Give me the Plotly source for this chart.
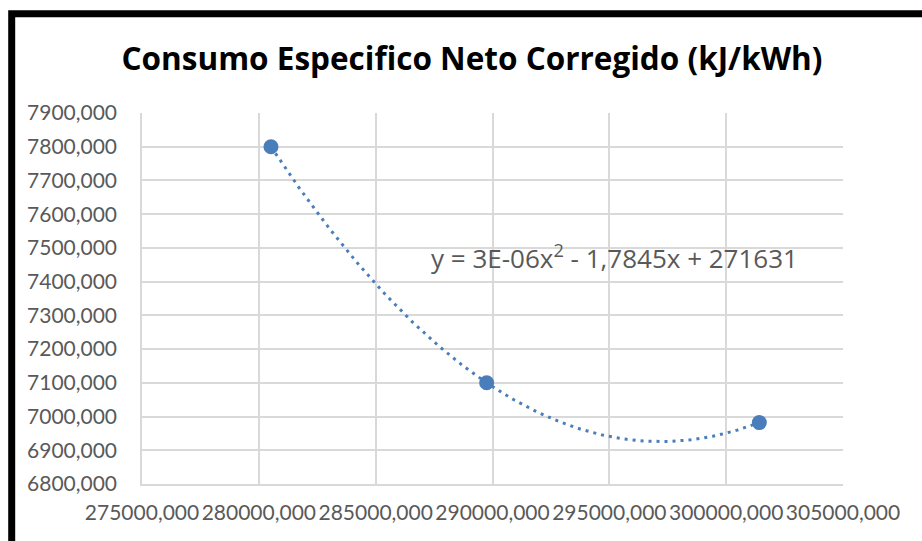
import numpy as np
import plotly.graph_objects as go

# Data
potencia = [280520, 289750, 301420]
consumo = [7800, 7100, 6982]

x_ticks = [275000, 280000, 285000, 290000, 295000, 300000, 305000]
x_ticktext = ["275000,000", "280000,000", "285000,000", "290000,000",
              "295000,000", "300000,000", "305000,000"]
y_ticks = [6800, 6900, 7000, 7100, 7200, 7300, 7400, 7500, 7600, 7700, 7800, 7900]
y_ticktext = ["6800,000", "6900,000", "7000,000", "7100,000", "7200,000", "7300,000",
              "7400,000", "7500,000", "7600,000", "7700,000", "7800,000", "7900,000"]

title_text = "Consumo Especifico Neto Corregido (kJ/kWh)"
equation_text = "y = 3E-06x<sup>2</sup> - 1,7845x + 271631"

# Polynomial (order 2) trendline fitted from the data, as the spreadsheet does
coef = np.polyfit(potencia, consumo, 2)
xt = np.linspace(min(potencia), max(potencia), 200)
yt = np.polyval(coef, xt)

W, H = 922, 541
L, R, T, B = 142, 79, 113, 57
pw, ph = W - L - R, H - T - B

def px2paper_x(px):
    return (px - L) / pw

def px2paper_y(py):
    return (H - B - py) / ph

blue = "#4a7ebb"
grey = "#595959"
grid = "#d9d9d9"
font = "Lato"

fig = go.Figure()
fig.add_trace(go.Scatter(x=xt, y=yt, mode="lines",
                         line=dict(color=blue, width=3, dash="3px,5px"),
                         hoverinfo="skip", showlegend=False))
fig.add_trace(go.Scatter(x=potencia, y=consumo, mode="markers",
                         marker=dict(color=blue, size=15),
                         showlegend=False))

fig.update_layout(
    width=W, height=H,
    margin=dict(l=L, r=R, t=T, b=B, pad=0, autoexpand=False),
    paper_bgcolor="white", plot_bgcolor="white",
    title=dict(text="<b>" + title_text + "</b>", x=px2paper_x(472), xref="paper",
               xanchor="center", y=1 - 59 / H, yanchor="middle",
               font=dict(family="Open Sans", size=31.5, color="black")),
    xaxis=dict(range=[275000, 305000], tickvals=x_ticks, ticktext=x_ticktext,
               tickangle=0, automargin=False,
               showgrid=True, gridcolor=grid, gridwidth=1.5,
               showline=True, linecolor=grid, linewidth=1.5, mirror=False,
               zeroline=False, ticks="outside", ticklen=9, tickcolor="rgba(0,0,0,0)",
               tickfont=dict(family=font, size=21, color=grey)),
    yaxis=dict(range=[6800, 7900], tickvals=y_ticks, ticktext=y_ticktext,
               automargin=False,
               showgrid=True, gridcolor=grid, gridwidth=1.5,
               showline=True, linecolor=grid, linewidth=1.5,
               zeroline=False, ticks="outside", ticklen=19, tickcolor="rgba(0,0,0,0)",
               tickfont=dict(family=font, size=21, color=grey)),
    annotations=[dict(text=equation_text, xref="paper", yref="paper",
                      x=px2paper_x(429), y=px2paper_y(257),
                      xanchor="left", yanchor="middle", showarrow=False,
                      font=dict(family="Open Sans", size=26, color=grey))],
    shapes=[dict(type="rect", xref="paper", yref="paper",
                 x0=px2paper_x(11.7), x1=px2paper_x(1100),
                 y0=px2paper_y(900), y1=px2paper_y(13.8),
                 line=dict(color="black", width=7), fillcolor="rgba(0,0,0,0)",
                 layer="above")],
)

fig.write_html("out.html", config={"displayModeBar": False},
               post_script="document.body.style.margin='0';")
